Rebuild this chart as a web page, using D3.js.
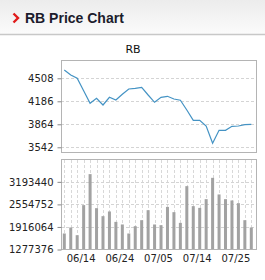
<!DOCTYPE html>
<html>
<head>
<meta charset="utf-8">
<script src="https://cdn.jsdelivr.net/npm/d3@7"></script>
<style>
  html, body { margin: 0; padding: 0; background: #fff; }
  svg { display: block; }
</style>
</head>
<body>
<div id="chart"></div>
<script>
// Trading days shown on the chart (only some are labelled)
const dates = [
  "06/11", "06/12", "06/13", "06/14", "06/17", "06/18", "06/19", "06/20", "06/21", "06/24",
  "06/25", "06/26", "06/28", "07/02", "07/03", "07/05", "07/08", "07/09", "07/10", "07/11",
  "07/12", "07/14", "07/15", "07/17", "07/18", "07/19", "07/22", "07/25", "07/26", "07/29"
];
const tickDates = ["06/14", "06/24", "07/05", "07/14", "07/25"];

// Closing prices
const prices = [
  4624, 4554, 4508, 4334, 4158, 4228, 4134, 4242, 4204, 4284,
  4358, 4368, 4382, 4274, 4172, 4242, 4256, 4218, 4200, 4064,
  3920, 3920, 3840, 3598, 3780, 3780, 3836, 3840, 3858, 3864
];

// Traded volume
const volumes = [
  1730944, 1901032, 1682752, 2533192, 3411982, 2448148, 2221364, 2354600, 2059780, 1986076,
  1730944, 1937884, 2107972, 2391452, 1986076, 1966232, 2484000, 2334756, 2031432, 3071804,
  2504844, 2456652, 2703280, 3307092, 2836516, 2703280, 2666428, 2589888, 2107972, 1901032
];

const priceTicks = [3542, 3864, 4186, 4508];
const volumeTicks = [1277376, 1916064, 2554752, 3193440];

const width = 265;
const height = 280;
const left = 61, right = 256;

const svg = d3.create("svg")
    .attr("width", width)
    .attr("height", height)
    .attr("style", "font: 10px 'DejaVu Sans', sans-serif;");

// Header with soft gradient
const defs = svg.append("defs");
const grad = defs.append("linearGradient")
    .attr("id", "hdr")
    .attr("x1", 0).attr("y1", 0).attr("x2", 0).attr("y2", 1);
grad.append("stop").attr("offset", "0%").attr("stop-color", "#ececec");
grad.append("stop").attr("offset", "100%").attr("stop-color", "#fbfbfb");

svg.append("rect")
    .attr("width", width).attr("height", 34)
    .attr("fill", "url(#hdr)");
svg.append("line")
    .attr("x1", 0).attr("x2", width)
    .attr("y1", 34.5).attr("y2", 34.5)
    .attr("stroke", "#c8c8c8")
    .attr("stroke-width", 1.5);

// red chevron
svg.append("path")
    .attr("d", "M13.5,13.5 L18,18 L13.5,22.5")
    .attr("fill", "none")
    .attr("stroke", "#e01b1b")
    .attr("stroke-width", 2.4);

svg.append("text")
    .attr("x", 25).attr("y", 22.7)
    .attr("fill", "#1c1c2c")
    .style("font", "bold 14px 'Liberation Sans', Arial, sans-serif")
    .text("RB Price Chart");

svg.append("text")
    .attr("x", 133).attr("y", 53)
    .attr("text-anchor", "middle")
    .attr("fill", "#111")
    .style("font-size", "11px")
    .text("RB");

// Shared x scale
const x = d3.scalePoint()
    .domain(dates)
    .range([64.3, 251.3]);

// ---- price panel ----
const yPrice = d3.scaleLinear()
    .domain([3462, 4764])
    .range([153, 60]);

svg.append("g")
    .selectAll("line")
    .data(priceTicks)
    .join("line")
    .attr("x1", left).attr("x2", right)
    .attr("y1", d => Math.round(yPrice(d)) + 0.5)
    .attr("y2", d => Math.round(yPrice(d)) + 0.5)
    .attr("stroke", "#d4d4d4")
    .attr("stroke-dasharray", "3,2");

svg.append("rect")
    .attr("x", left + 0.5).attr("y", 60.5)
    .attr("width", right - left).attr("height", 92)
    .attr("fill", "none")
    .attr("stroke", "#b4b4b4");

const priceAxis = svg.append("g")
    .attr("transform", `translate(${left + 0.5},0)`)
    .call(d3.axisLeft(yPrice)
        .tickValues(priceTicks)
        .tickSize(4)
        .tickPadding(4)
        .tickFormat(d3.format("d")));
priceAxis.select(".domain").remove();
priceAxis.selectAll("line").attr("stroke", "#888");
priceAxis.selectAll("text")
    .attr("fill", "#222")
    .style("font", "10px 'DejaVu Sans', sans-serif");

const line = d3.line()
    .x((d, i) => x(dates[i]))
    .y(d => yPrice(d));

svg.append("path")
    .datum(prices)
    .attr("fill", "none")
    .attr("stroke", "#4493c4")
    .attr("stroke-width", 1.2)
    .attr("d", line);

// ---- volume panel ----
const yVol = d3.scaleLinear()
    .domain([1277376, 3832128])
    .range([249.5, 159.3]);

svg.append("g")
    .selectAll("line")
    .data(dates)
    .join("line")
    .attr("x1", d => Math.round(x(d)) + 0.5)
    .attr("x2", d => Math.round(x(d)) + 0.5)
    .attr("y1", 160).attr("y2", 249)
    .attr("stroke", "#d8d8d8")
    .attr("stroke-dasharray", "3,2");

svg.append("g")
    .selectAll("line")
    .data(volumeTicks.slice(1))
    .join("line")
    .attr("x1", left).attr("x2", right)
    .attr("y1", d => Math.round(yVol(d)) + 0.5)
    .attr("y2", d => Math.round(yVol(d)) + 0.5)
    .attr("stroke", "#d4d4d4")
    .attr("stroke-dasharray", "3,2");

svg.append("g")
    .selectAll("rect")
    .data(volumes)
    .join("rect")
    .attr("x", (d, i) => x(dates[i]) - 1.5)
    .attr("width", 3)
    .attr("y", d => yVol(d))
    .attr("height", d => yVol.range()[0] - yVol(d))
    .attr("fill", "#a2a2a2");

svg.append("rect")
    .attr("x", left + 0.5).attr("y", 159.5)
    .attr("width", right - left).attr("height", 90)
    .attr("fill", "none")
    .attr("stroke", "#b4b4b4");

const volAxis = svg.append("g")
    .attr("transform", `translate(${left + 0.5},0)`)
    .call(d3.axisLeft(yVol)
        .tickValues(volumeTicks)
        .tickSize(4)
        .tickPadding(4)
        .tickFormat(d3.format("d")));
volAxis.select(".domain").remove();
volAxis.selectAll("line").attr("stroke", "#888");
volAxis.selectAll("text")
    .attr("fill", "#222")
    .style("font", "10px 'DejaVu Sans', sans-serif");

const xAxis = svg.append("g")
    .attr("transform", "translate(0,250)")
    .call(d3.axisBottom(x)
        .tickValues(tickDates)
        .tickSize(0)
        .tickPadding(5));
xAxis.select(".domain").remove();
xAxis.selectAll("text")
    .attr("dx", -3)
    .attr("fill", "#222")
    .style("font", "10px 'DejaVu Sans', sans-serif");

d3.select("#chart").node().appendChild(svg.node());
</script>
</body>
</html>
